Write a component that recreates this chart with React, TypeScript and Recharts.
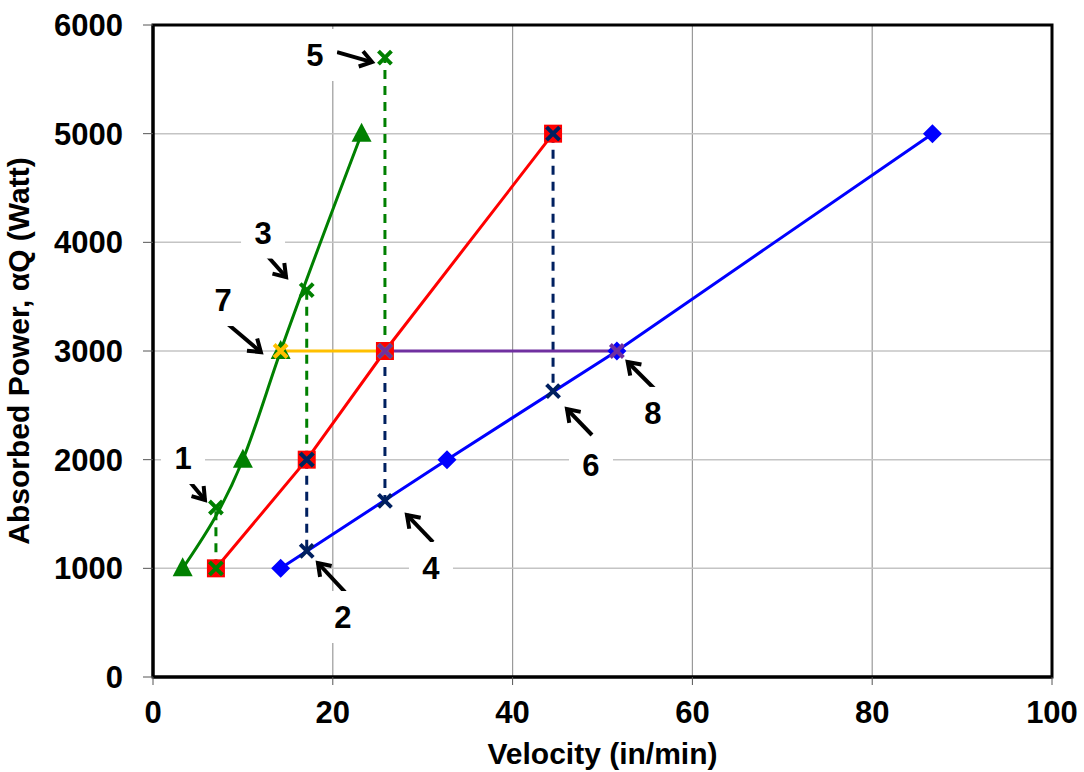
import React from "react";
import {
  ComposedChart,
  Line,
  XAxis,
  YAxis,
  CartesianGrid,
  ReferenceArea,
  ReferenceLine,
  ReferenceDot,
} from "recharts";

// power levels shared by the three main curves
const power = [1000, 2000, 3000, 5000];
const greenV = [3.3, 10, 14.2, 23.2];
const redV = [7, 17.1, 25.8, 44.5];
const blueV = [14.2, 32.7, 51.6, 86.7];

// vertical dashed drops
const greenDropV = [7, 17.1, 25.8];
const greenDropBase = [1000, 2000, 3000];
const greenDropTop = [1560, 3560, 5700];
const navyDropV = [17.1, 25.8, 44.5];
const navyDropTop = [2000, 3000, 5000];
const navyDropBase = [1160, 1620, 2630];

// horizontal links at 3000 W
const yellowV = [14.2, 25.8];
const purpleV = [25.8, 51.6];
const linkPower = 3000;

const velocityTicks = [0, 20, 40, 60, 80, 100];
const powerTicks = [0, 1000, 2000, 3000, 4000, 5000, 6000];

// numbered callouts: label position and arrow (from -> to)
const calloutText = ["1", "2", "3", "4", "5", "6", "7", "8"];
const calloutLabel = [
  [3.34, 2015], [21.13, 552], [12.24, 4090], [30.92, 1003],
  [18.0, 5724], [48.72, 1951], [7.79, 3469], [55.6, 2430],
];
const arrowFrom = [
  [3.56, 1850], [21.36, 782], [12.24, 3920], [31.15, 1242],
  [20.47, 5751], [48.83, 2227], [7.79, 3285], [55.8, 2650],
];
const arrowTo = [
  [5.78, 1629], [18.35, 1049], [14.8, 3681], [28.25, 1491],
  [24.36, 5659], [46.05, 2466], [12.0, 2990], [52.8, 2899],
];

const GREEN = "#008000";
const RED = "#ff0000";
const BLUE = "#0000ff";
const NAVY = "#002060";
const YELLOW = "#ffc000";
const PURPLE = "#7030a0";
const FONT = "'Liberation Sans', Arial, sans-serif";

const toPts = (xs: number[], ys: number[]) => xs.map((x, i) => ({ x, y: ys[i] }));

const triangleDot = (color: string) => (p: any) => (
  <polygon
    key={`t-${p.index}`}
    points={`${p.cx},${p.cy - 11} ${p.cx - 10},${p.cy + 8} ${p.cx + 10},${p.cy + 8}`}
    fill={color}
  />
);
const squareDot = (color: string) => (p: any) => (
  <rect key={`s-${p.index}`} x={p.cx - 9} y={p.cy - 9} width={18} height={18} fill={color} />
);
const diamondDot = (color: string) => (p: any) => (
  <polygon
    key={`d-${p.index}`}
    points={`${p.cx},${p.cy - 9.5} ${p.cx + 9.5},${p.cy} ${p.cx},${p.cy + 9.5} ${p.cx - 9.5},${p.cy}`}
    fill={color}
  />
);
const crossDot = (color: string) => (p: any) => (
  <path
    key={`x-${p.index}`}
    d={`M${p.cx - 6.5},${p.cy - 6.5}L${p.cx + 6.5},${p.cy + 6.5}M${p.cx + 6.5},${p.cy - 6.5}L${p.cx - 6.5},${p.cy + 6.5}`}
    stroke={color}
    strokeWidth={4}
    fill="none"
  />
);

const Arrow = (p: any) => {
  const { x1, y1, x2, y2 } = p;
  const a = Math.atan2(y1 - y2, x1 - x2);
  const L = 14;
  const s = 0.6;
  return (
    <g>
      <line x1={x1} y1={y1} x2={x2} y2={y2} stroke="#000" strokeWidth={4} />
      <path
        d={`M${x2 + L * Math.cos(a + s)},${y2 + L * Math.sin(a + s)}L${x2},${y2}L${x2 + L * Math.cos(a - s)},${y2 + L * Math.sin(a - s)}`}
        stroke="#000"
        strokeWidth={4}
        fill="none"
      />
    </g>
  );
};

const calloutShape = (text: string) => (p: any) => (
  <g>
    <rect x={p.cx - 22} y={p.cy - 26} width={44} height={52} fill="#fff" />
    <text
      x={p.cx}
      y={p.cy + 11}
      textAnchor="middle"
      fontFamily={FONT}
      fontWeight="bold"
      fontSize={31}
      fill="#000"
    >
      {text}
    </text>
  </g>
);

const tickStyle = { fontSize: 31, fontWeight: "bold", fill: "#000", fontFamily: FONT };

export default function App() {
  const segGreen = greenDropV.map((v, i) => [
    { x: v, y: greenDropBase[i] },
    { x: v, y: greenDropTop[i] },
  ]);
  const segNavy = navyDropV.map((v, i) => [
    { x: v, y: navyDropTop[i] },
    { x: v, y: navyDropBase[i] },
  ]);

  return (
    <div style={{ position: "absolute", left: 0, top: 0, background: "#fff" }}>
      <ComposedChart width={1084} height={772} margin={{ top: 25, right: 32, left: 0, bottom: 0 }}>
        <CartesianGrid horizontal={false} stroke="#9a9a9a" strokeWidth={1.2} />
        <CartesianGrid vertical={false} stroke="#c4c4c4" strokeWidth={1.5} />
        <XAxis
          type="number"
          dataKey="x"
          domain={[0, 100]}
          ticks={velocityTicks}
          height={95}
          tick={tickStyle}
          tickSize={8}
          tickMargin={16}
          axisLine={{ stroke: "#000", strokeWidth: 3 }}
          tickLine={{ stroke: "#555" }}
          label={{
            value: "Velocity (in/min)",
            position: "insideBottom",
            offset: 8,
            style: { fontSize: 30, fontWeight: "bold", fill: "#000", fontFamily: FONT },
          }}
        />
        <YAxis
          type="number"
          dataKey="y"
          domain={[0, 6000]}
          ticks={powerTicks}
          width={153}
          tick={tickStyle}
          tickSize={10}
          tickMargin={20}
          axisLine={{ stroke: "#000", strokeWidth: 3 }}
          tickLine={{ stroke: "#555" }}
          label={{
            value: "Absorbed Power, αQ (Watt)",
            angle: -90,
            position: "insideLeft",
            offset: 18,
            style: {
              textAnchor: "middle",
              fontSize: 30,
              fontWeight: "bold",
              fill: "#000",
              fontFamily: FONT,
            },
          }}
        />
        <ReferenceArea x1={0} x2={100} y1={0} y2={6000} fill="none" stroke="#000" strokeWidth={3} />

        <Line
          data={toPts(greenV, power)}
          dataKey="y"
          type="monotone"
          stroke={GREEN}
          strokeWidth={3}
          dot={triangleDot(GREEN)}
          isAnimationActive={false}
        />
        <Line
          data={toPts(redV, power)}
          dataKey="y"
          type="linear"
          stroke={RED}
          strokeWidth={3}
          dot={squareDot(RED)}
          isAnimationActive={false}
        />
        <Line
          data={toPts(blueV, power)}
          dataKey="y"
          type="linear"
          stroke={BLUE}
          strokeWidth={3}
          dot={diamondDot(BLUE)}
          isAnimationActive={false}
        />
        {segGreen.map((seg, i) => (
          <Line
            key={`g${i}`}
            data={seg}
            dataKey="y"
            type="linear"
            stroke={GREEN}
            strokeWidth={3}
            strokeDasharray="9 7"
            dot={crossDot(GREEN)}
            isAnimationActive={false}
          />
        ))}
        {segNavy.map((seg, i) => (
          <Line
            key={`n${i}`}
            data={seg}
            dataKey="y"
            type="linear"
            stroke={NAVY}
            strokeWidth={3}
            strokeDasharray="9 7"
            dot={crossDot(NAVY)}
            isAnimationActive={false}
          />
        ))}
        <Line
          data={yellowV.map((x) => ({ x, y: linkPower }))}
          dataKey="y"
          type="linear"
          stroke={YELLOW}
          strokeWidth={3}
          dot={crossDot(YELLOW)}
          isAnimationActive={false}
        />
        <Line
          data={purpleV.map((x) => ({ x, y: linkPower }))}
          dataKey="y"
          type="linear"
          stroke={PURPLE}
          strokeWidth={3}
          dot={crossDot(PURPLE)}
          isAnimationActive={false}
        />

        {calloutText.map((t, i) => (
          <ReferenceLine
            key={`a${i}`}
            segment={[
              { x: arrowFrom[i][0], y: arrowFrom[i][1] },
              { x: arrowTo[i][0], y: arrowTo[i][1] },
            ]}
            shape={Arrow}
          />
        ))}
        {calloutText.map((t, i) => (
          <ReferenceDot
            key={`c${i}`}
            x={calloutLabel[i][0]}
            y={calloutLabel[i][1]}
            r={0}
            shape={calloutShape(t)}
          />
        ))}
      </ComposedChart>
    </div>
  );
}
